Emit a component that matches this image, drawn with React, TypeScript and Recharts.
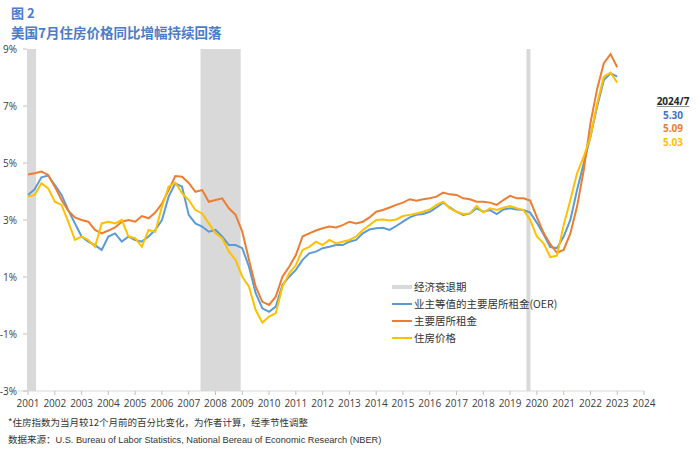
import React from "react";
import { LineChart, Line, XAxis, YAxis, ReferenceArea, Legend } from "recharts";

// quarterly observations, plotted on a numeric year axis
const periods = [
  2001, 2001.25, 2001.5, 2001.75, 2002, 2002.25, 2002.5, 2002.75,
  2003, 2003.25, 2003.5, 2003.75, 2004, 2004.25, 2004.5, 2004.75,
  2005, 2005.25, 2005.5, 2005.75, 2006, 2006.25, 2006.5, 2006.75,
  2007, 2007.25, 2007.5, 2007.75, 2008, 2008.25, 2008.5, 2008.75,
  2009, 2009.25, 2009.5, 2009.75, 2010, 2010.25, 2010.5, 2010.75,
  2011, 2011.25, 2011.5, 2011.75, 2012, 2012.25, 2012.5, 2012.75,
  2013, 2013.25, 2013.5, 2013.75, 2014, 2014.25, 2014.5, 2014.75,
  2015, 2015.25, 2015.5, 2015.75, 2016, 2016.25, 2016.5, 2016.75,
  2017, 2017.25, 2017.5, 2017.75, 2018, 2018.25, 2018.5, 2018.75,
  2019, 2019.25, 2019.5, 2019.75, 2020, 2020.25, 2020.5, 2020.75,
  2021, 2021.25, 2021.5, 2021.75, 2022, 2022.25, 2022.5, 2022.75,
  2023,
];

const oer = [
  3.88, 4.08, 4.5, 4.56, 4.23, 3.88, 3.35, 2.88,
  2.42, 2.24, 2.12, 1.95, 2.42, 2.53, 2.24, 2.42,
  2.3, 2.24, 2.42, 2.65, 3.0, 3.82, 4.29, 4.17,
  3.18, 2.88, 2.77, 2.59, 2.65, 2.42, 2.12, 2.12,
  2.01, 1.36, 0.43, -0.1, -0.22, -0.04, 0.72, 1.01,
  1.25, 1.6, 1.83, 1.89, 2.01, 2.06, 2.12, 2.12,
  2.24, 2.3, 2.53, 2.67, 2.71, 2.73, 2.65, 2.79,
  2.94, 3.09, 3.18, 3.21, 3.29, 3.44, 3.61, 3.44,
  3.29, 3.18, 3.23, 3.41, 3.29, 3.35, 3.21, 3.37,
  3.41, 3.37, 3.35, 3.26, 2.9, 2.5, 2.05, 2.01,
  2.42, 3.0, 4.05, 4.99, 5.92, 6.98, 7.91, 8.15,
  8.03,
];

const rent = [
  4.6, 4.64, 4.7, 4.58, 4.17, 3.7, 3.33, 3.09,
  3.0, 2.94, 2.65, 2.53, 2.63, 2.74, 2.94, 3.0,
  2.94, 3.14, 3.06, 3.26, 3.58, 4.05, 4.54, 4.52,
  4.3, 3.99, 4.05, 3.64, 3.7, 3.76, 3.41, 3.18,
  2.59, 1.6, 0.66, 0.13, 0.02, 0.31, 1.01, 1.36,
  1.77, 2.42, 2.53, 2.63, 2.71, 2.77, 2.74, 2.82,
  2.94, 2.88, 2.94, 3.09, 3.29, 3.35, 3.44, 3.53,
  3.61, 3.73, 3.68, 3.73, 3.76, 3.82, 3.96, 3.9,
  3.88, 3.76, 3.73, 3.64, 3.64, 3.61, 3.53, 3.7,
  3.85, 3.76, 3.76, 3.68, 3.1, 2.55, 2.15, 1.85,
  1.95, 2.53, 3.47, 4.75, 6.4, 7.6, 8.5, 8.82,
  8.36,
];

const shelter = [
  3.82, 3.88, 4.29, 4.11, 3.64, 3.53, 2.94, 2.3,
  2.42, 2.3, 2.06, 2.88, 2.94, 2.88, 3.0, 2.42,
  2.36, 2.06, 2.65, 2.59, 3.47, 4.17, 4.31, 3.94,
  3.7, 3.35, 3.23, 2.88, 2.53, 2.36, 1.89, 1.6,
  1.01, 0.66, -0.16, -0.6, -0.39, -0.27, 0.66, 1.13,
  1.42, 1.95, 2.06, 2.24, 2.12, 2.3, 2.18, 2.24,
  2.3, 2.42, 2.65, 2.82, 3.0, 3.02, 2.98, 3.02,
  3.14, 3.18, 3.23, 3.29, 3.37, 3.53, 3.64, 3.41,
  3.29, 3.21, 3.23, 3.49, 3.26, 3.41, 3.35, 3.43,
  3.49, 3.41, 3.35, 3.0, 2.42, 2.18, 1.7, 1.75,
  2.82, 3.7, 4.64, 5.22, 5.92, 7.09, 8.03, 8.17,
  7.82,
];

const recessionStart = [2000.96, 2007.44, 2019.61];
const recessionEnd = [2001.3, 2008.94, 2019.76];

const yearTicks = [
  2001, 2002, 2003, 2004, 2005, 2006, 2007, 2008, 2009, 2010, 2011, 2012,
  2013, 2014, 2015, 2016, 2017, 2018, 2019, 2020, 2021, 2022, 2023, 2024,
];
const pctTicks = [-3, -1, 1, 3, 5, 7, 9];

const latestLabel = "2024/7";
const latestValues = ["5.30", "5.09", "5.03"];

const series = [
  { key: "oer", name: "业主等值的主要居所租金(OER)", color: "#5B9BD5", text: "#4472C4" },
  { key: "rent", name: "主要居所租金", color: "#ED7D31", text: "#ED7D31" },
  { key: "shelter", name: "住房价格", color: "#FFC000", text: "#FFC000" },
];

const data = periods.map((t, i) => ({
  t,
  oer: oer[i],
  rent: rent[i],
  shelter: shelter[i],
}));

const cjk = '"Noto Sans CJK SC", "Noto Sans", sans-serif';
const latin = '"Open Sans", "Noto Sans CJK SC", sans-serif';

const PctTick = (props: any) => {
  const { y, payload } = props;
  return (
    <g>
      <text x={17} y={y} dy={3.5} textAnchor="end" fontSize={10} fill="#404040" fontFamily={latin}>
        {payload.value}%
      </text>
      <line x1={23} x2={27} y1={y} y2={y} stroke="#bfbfbf" />
    </g>
  );
};

const LegendBox = () => (
  <div style={{ fontFamily: cjk, fontSize: 10.5, color: "#333" }}>
    <div style={{ display: "flex", alignItems: "center", height: 17 }}>
      <span style={{ width: 20, height: 4, background: "#D9D9D9", marginRight: 2 }} />
      经济衰退期
    </div>
    {series.map((s) => (
      <div key={s.key} style={{ display: "flex", alignItems: "center", height: 17 }}>
        <span style={{ width: 20, height: 2, background: s.color, marginRight: 2 }} />
        {s.name}
      </div>
    ))}
  </div>
);

export default function App() {
  return (
    <div style={{ position: "absolute", left: 0, top: 0, width: 700, height: 457, background: "#fff" }}>
      <div style={{ position: "absolute", left: 11, top: 5, fontFamily: cjk, fontSize: 13, fontWeight: 700, color: "#4A7CCB", lineHeight: "16px" }}>
        图 2
      </div>
      <div style={{ position: "absolute", left: 11, top: 23, fontFamily: cjk, fontSize: 13.5, fontWeight: 700, color: "#4A7CCB", lineHeight: "18px" }}>
        美国7月住房价格同比增幅持续回落
      </div>

      <LineChart
        width={700}
        height={457}
        data={data}
        margin={{ top: 49, right: 56, bottom: 0, left: 0 }}
        style={{ position: "absolute", left: 0, top: 0 }}
      >
        {recessionStart.map((s, i) => (
          <ReferenceArea
            key={s}
            x1={s}
            x2={recessionEnd[i]}
            y1={-3}
            y2={9}
            fill="#D9D9D9"
            fillOpacity={1}
            stroke="none"
            ifOverflow="hidden"
          />
        ))}
        <XAxis
          dataKey="t"
          type="number"
          domain={[2000.625, 2024]}
          ticks={yearTicks}
          interval={0}
          allowDataOverflow
          height={66}
          axisLine={{ stroke: "#D9D9D9" }}
          tickLine={{ stroke: "#BFBFBF" }}
          tickSize={4}
          tickMargin={5}
          tick={{ fontSize: 10, fill: "#404040", fontFamily: latin }}
        />
        <YAxis
          type="number"
          domain={[-3, 9]}
          ticks={pctTicks}
          width={18}
          axisLine={false}
          tickLine={false}
          tick={<PctTick />}
        />
        <Legend
          layout="horizontal"
          verticalAlign="middle"
          align="center"
          content={() => <LegendBox />}
          wrapperStyle={{ left: 392, top: 278, width: 220 }}
        />
        {series.map((s) => (
          <Line
            key={s.key}
            type="linear"
            dataKey={s.key}
            name={s.name}
            stroke={s.color}
            strokeWidth={2}
            dot={false}
            isAnimationActive={false}
          />
        ))}
      </LineChart>

      <div style={{ position: "absolute", left: 650, top: 95, width: 46, textAlign: "center", fontFamily: latin, fontSize: 10, fontWeight: 700, lineHeight: "13.5px" }}>
        <div style={{ color: "#262626", textDecoration: "underline", textDecorationColor: "#999" }}>{latestLabel}</div>
        {latestValues.map((v, i) => (
          <div key={v} style={{ color: series[i].text }}>{v}</div>
        ))}
      </div>

      <div style={{ position: "absolute", left: 8, top: 415, fontFamily: cjk, fontSize: 9.5, color: "#333", lineHeight: "14px" }}>
        *住房指数为当月较12个月前的百分比变化，为作者计算，经季节性调整
      </div>
      <div style={{ position: "absolute", left: 8, top: 432, fontSize: 9.5, color: "#333", lineHeight: "14px", whiteSpace: "nowrap" }}>
        <span style={{ fontFamily: cjk }}>数据来源：</span>
        <span style={{ fontFamily: '"Liberation Sans", sans-serif', fontSize: 9.2 }}>
          U.S. Bureau of Labor Statistics, National Bereau of Economic Research (NBER)
        </span>
      </div>
    </div>
  );
}
